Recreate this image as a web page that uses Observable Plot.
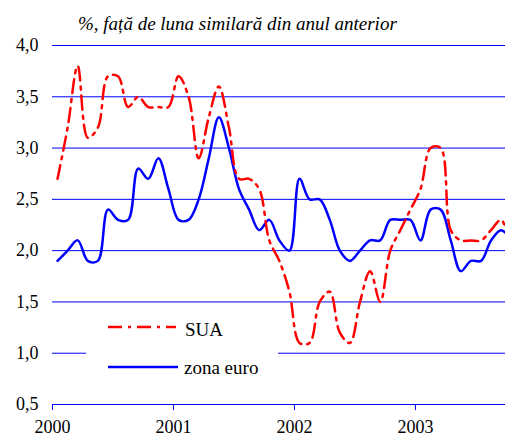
<!DOCTYPE html>
<html><head><meta charset="utf-8">
<script src="https://cdn.jsdelivr.net/npm/d3@7"></script>
<script src="https://cdn.jsdelivr.net/npm/@observablehq/plot@0.6"></script>
</head>
<body style="margin:0;background:#fff">
<div id="wrap" style="position:relative;width:505px;height:437px;overflow:hidden;font-family:'Liberation Serif'">
<div id="chart"></div>
<div id="title" style="position:absolute;left:78px;top:14px;font-family:'Liberation Serif';font-style:italic;font-size:19px;line-height:19px;white-space:nowrap;color:#000">%, față de luna similară din anul anterior</div>
<svg id="legend" width="192" height="80" style="position:absolute;left:86px;top:306px">
  <rect x="0" y="0" width="192" height="80" fill="#fff"></rect>
  <line x1="22" x2="90" y1="21" y2="21" stroke="#ff0000" stroke-width="2.5" stroke-dasharray="14,6,3,6"></line>
  <text x="99" y="30" fill="#000" style="font-family:'Liberation Serif';font-size:19px">SUA</text>
  <line x1="22" x2="92" y1="61" y2="61" stroke="#0000ff" stroke-width="2.5"></line>
  <text x="98" y="68" fill="#000" style="font-family:'Liberation Serif';font-size:19px">zona euro</text>
</svg>
</div>
<script>
const years = [2000, 2001, 2002, 2003];
const yTicks = [0.5, 1.0, 1.5, 2.0, 2.5, 3.0, 3.5, 4.0];
// monthly values, Jan 2000 – Oct 2003
const sua = [2.7,3.2,3.8,3.1,3.2,3.7,3.7,3.4,3.5,3.4,3.4,3.4,
             3.7,3.5,2.9,3.3,3.6,3.2,2.7,2.7,2.6,2.1,1.9,1.6,
             1.1,1.1,1.5,1.6,1.2,1.1,1.5,1.8,1.5,2.0,2.2,2.4,
             2.6,3.0,3.0,2.2,2.1,2.1,2.1,2.2,2.3,2.0];
const euro = [1.9,2.0,2.1,1.9,1.9,2.4,2.3,2.3,2.8,2.7,2.9,2.6,
              2.3,2.3,2.5,2.9,3.3,3.0,2.6,2.4,2.2,2.3,2.1,2.0,
              2.7,2.5,2.5,2.3,2.0,1.9,2.0,2.1,2.1,2.3,2.3,2.3,
              2.1,2.4,2.4,2.1,1.8,1.9,1.9,2.1,2.2,2.1];

const suaData = sua.map((v, i) => ({m: i + 0.5, v}));
const euroData = euro.map((v, i) => ({m: i + 0.5, v}));
const yearTicks = years.map(y => (y - 2000) * 12);
const fmt = d => d.toFixed(1).replace(".", ",");

const chart = Plot.plot({
  width: 505,
  height: 437,
  marginLeft: 52,
  marginRight: 0,
  marginTop: 45,
  marginBottom: 33,
  style: {fontFamily: "'Liberation Serif'", background: "#fff", color: "#000"},
  x: {type: "linear", domain: [0, 44.93]},
  y: {domain: [0.5, 4.0]},
  marks: [
    Plot.ruleY(yTicks, {stroke: "#0000ff", strokeWidth: 1}),
    Plot.axisX({ticks: yearTicks, tickSize: 6, tickPadding: 10, stroke: "#0000ff", strokeWidth: 1,
      tickFormat: d => String(2000 + d / 12), fontSize: 18, fill: "#000", label: null}),
    Plot.axisY({ticks: yTicks, tickSize: 0, tickPadding: 14, tickFormat: fmt, fontSize: 18, fill: "#000", label: null}),
    Plot.line(euroData, {x: "m", y: "v", stroke: "#0000ff", strokeWidth: 2.5, curve: "catmull-rom", clip: true}),
    Plot.line(suaData, {x: "m", y: "v", stroke: "#ff0000", strokeWidth: 2.5, strokeDasharray: "14,6,3,6", curve: "catmull-rom", clip: true})
  ]
});
chart.querySelectorAll("text, g").forEach(el => el.style.setProperty("font-family", "'Liberation Serif'", "important"));
document.getElementById("chart").appendChild(chart);
</script>
</body></html>
